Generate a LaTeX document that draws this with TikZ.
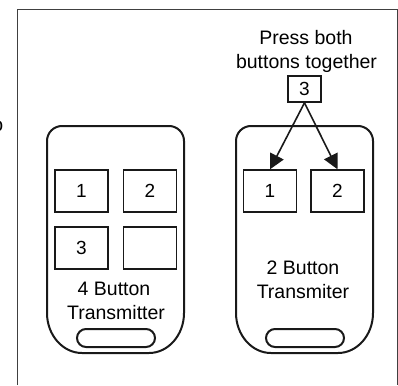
\documentclass[tikz,border=0pt]{standalone}
\usepackage{fontspec}
\setmainfont{Liberation Sans}
\usetikzlibrary{arrows.meta}
\begin{document}
\begin{tikzpicture}[x=1pt,y=-1pt,
  frame/.style={line width=1pt,draw=black!75},
  body/.style={line width=2pt,draw=black!90},
  btn/.style={draw=black!90,line width=1.4pt,minimum width=53pt,minimum height=42pt,inner sep=0pt,font=\fontsize{19}{23}\selectfont},
  keybox/.style={draw=black!90,line width=1.6pt,minimum width=33pt,minimum height=26pt,inner sep=0pt,font=\fontsize{19}{23}\selectfont},
  lbl/.style={font=\fontsize{19.5}{24}\selectfont,anchor=base,inner sep=0pt},
  slot/.style={draw=black!90,line width=2pt,rounded corners=9pt},
  arr/.style={line width=1.6pt,draw=black!90,fill=black!90,-{Triangle[length=15pt,width=15pt]}}]
\useasboundingbox (0,0) rectangle (398,385);
% outer frame
\draw[frame] (17,385) -- (17,10) -- (397,10) -- (397,385);
% cropped glyph at the left edge
\node[lbl,anchor=base east] (frag) at (3.5,131) {o};
% transmitter bodies
\foreach \dx in {0,189}{
  \begin{scope}[xshift=\dx]
    \draw[body] (184,313) .. controls (184,335) and (168.3,353) .. (149,353)
      -- (82,353) .. controls (62.7,353) and (47,335) .. (47,313)
      [rounded corners=15pt] -- (47,126) -- (184,126) [sharp corners] -- cycle;
    \draw[slot] (77,329) rectangle (155,347);
  \end{scope}
}
% 4 button transmitter
\node[btn] (b1) at (81.5,191) {1};
\node[btn] (b2) at (150,191) {2};
\node[btn] (b3) at (81.5,248) {3};
\node[btn] (b4) at (150,248) {};
\node[lbl] (l4a) at (114,295) {4 Button};
\node[lbl] (l4b) at (116,319) {Transmitter};
% 2 button transmitter
\node[btn] (r1) at (270,191) {1};
\node[btn] (r2) at (337.5,191) {2};
\node[lbl] (l2a) at (303,274) {2 Button};
\node[lbl] (l2b) at (303,298) {Transmiter};
% instruction
\node[lbl] (p1) at (306,45) {Press both};
\node[lbl] (p2) at (306.5,68.5) {buttons together};
\node[keybox] (k) at (304.5,89) {3};
\draw[arr] (k.south) -- (r1.north);
\draw[arr] (k.south) -- (r2.north);
\end{tikzpicture}
\end{document}
